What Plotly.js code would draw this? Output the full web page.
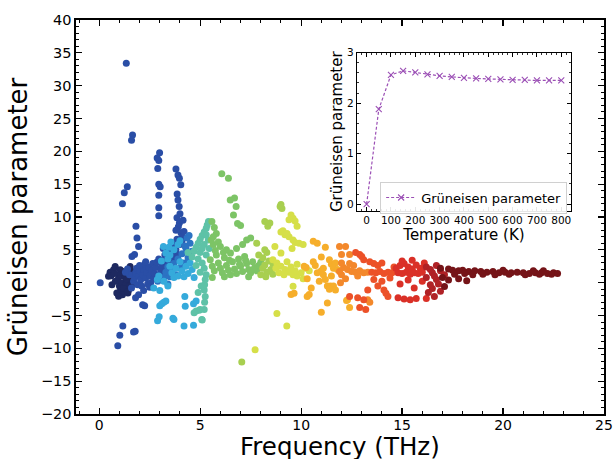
<!DOCTYPE html>
<html>
<head>
<meta charset="utf-8">
<script src="https://cdn.plot.ly/plotly-3.0.1.min.js"></script>
<style>html,body{margin:0;padding:0;background:#fff}#chart{width:615px;height:459px}</style>
</head>
<body>
<div id="chart"></div>
<script>
// ---- main scatter data: frequency (THz) vs Grüneisen parameter, grouped by branch colour ----
const navyX = [0.54,0.46,0.59,0.79,0.71,0.63,0.92,0.87,1.04,1.12,1.25,1.37,1.45,1.32,1.53,1.62,1.12,1.2,1.04,0.96,1.42,1.15,0.96,1.0,1.1,1.3,1.5,1.55,1.2,0.8,0.75,1.35,1.4,1.6,1.62,1.53];
const navyY = [1.57,0.96,1.07,2.48,1.98,-0.3,0.46,-1.57,-1.32,-1.07,-0.8,-0.66,-1.17,0.2,-0.05,0.46,1.72,0.96,1.98,1.22,-1.57,-1.83,-2.08,-0.5,0.0,-0.3,-0.6,0.9,-0.9,0.2,1.4,0.6,-1.4,-0.4,1.72,2.48];

const blueX = [1.34,1.65,1.6,1.39,1.24,1.15,1.82,1.87,1.95,2.15,2.25,1.17,1.02,0.92,1.7,1.78,2.99,2.87,2.95,2.9,2.95,3.02,2.95,2.95,2.95,3.17,3.8,3.9,3.97,4.04,3.86,3.9,3.96,3.85,3.97,0.05,1.75,1.62,3.92,4.05,4.1,3.8,4.15,4.0,
  1.6,1.7,1.75,1.8,1.85,1.9,1.95,2.0,2.05,2.1,2.15,2.2,2.25,2.3,2.35,2.4,2.45,2.5,2.55,2.6,2.65,2.7,2.75,2.8,2.85,2.9,2.95,3.0,3.05,3.1,3.15,3.2,3.25,3.3,3.35,3.4,3.45,3.5,3.55,3.6,3.65,3.7,3.75,3.8,3.85,3.9,1.95,1.8,2.2,2.5,4.0,4.1,4.2,3.6,2.0,2.3,1.5,1.4,1.3];
const blueY = [33.4,22.5,21.7,14.6,13.7,12.0,8.6,6.8,5.5,-3.35,-3.5,-6.6,-8.0,-9.6,-7.5,-7.4,19.8,19.0,18.6,17.4,15.0,14.6,13.3,11.4,10.2,5.2,17.3,16.4,15.9,14.9,13.5,12.6,11.6,9.9,9.1,0.0,4.3,4.0,8.5,7.6,7.0,8.0,9.5,10.5,
  -0.8,0.2,0.8,1.5,2.2,-0.3,1.0,1.8,0.4,-0.5,1.2,2.0,2.8,0.7,1.6,-0.2,2.4,1.0,0.0,1.9,2.9,0.6,1.4,2.3,3.1,1.0,3.6,0.5,1.8,2.6,3.4,1.2,4.2,2.2,3.0,4.8,1.6,3.8,2.6,5.2,4.3,6.0,3.4,5.0,6.6,4.2,-1.83,-2.3,-1.2,-0.7,5.8,6.4,7.8,3.0,2.6,3.2,1.2,2.1,1.6];

const midblueX = [3.2,3.3,3.4,3.5,3.6,3.7,3.8,3.9,4.0,4.1,4.2,4.3,4.4,4.5,4.35,4.25,4.45,4.6,3.4,2.9];
const midblueY = [0.8,1.6,2.4,0.9,1.9,2.9,1.2,3.6,2.2,4.4,3.0,5.2,3.8,6.0,6.8,5.6,7.2,4.8,-0.2,0.2];

const cyanX = [2.88,3.08,2.95,3.18,3.3,3.4,3.5,3.6,3.7,3.8,3.9,4.0,4.1,4.2,4.3,4.4,4.5,4.6,4.7,3.5,3.7,3.9,4.0,3.55,3.45,2.89,2.97,3.0,3.1,3.2,3.3,3.65,3.7,4.2,4.67,4.26,4.24,4.67,4.8,3.2,3.4,3.0,2.7];
const cyanY = [0.5,3.3,1.0,5.5,4.5,3.6,2.5,1.5,0.8,2.2,1.0,3.2,1.8,0.9,2.5,1.4,3.0,2.0,0.8,4.2,5.0,5.8,6.4,6.2,5.4,-5.8,-5.2,-3.5,-3.2,-3.0,-2.8,-5.4,-5.6,-6.6,-6.5,-3.6,-2.1,-3.2,-2.8,0.2,-0.5,-1.2,-0.8];

const tealX = [5.41,5.35,5.3,5.2,5.1,5.0,4.9,4.8,4.7,5.2,5.0,4.9,5.1,5.3,5.2,4.8,5.0,5.3,4.6,4.4,5.4,5.3,5.45,5.1,
  5.08,5.2,5.22,5.25,5.2,5.22,5.25,4.7,4.8,4.95,5.0,5.1,4.9,5.05];
const tealY = [9.3,8.8,8.3,7.7,7.2,6.6,6.0,5.4,4.8,5.8,4.6,3.6,3.0,4.2,2.2,2.6,1.6,1.2,3.9,4.6,6.5,7.3,5.2,5.2,
  -5.6,-4.1,-3.0,-2.1,-1.1,-0.3,0.5,-4.6,-4.3,-4.2,-4.1,-5.7,-1.5,-0.5];

const greenX = [5.58,5.7,5.8,5.9,6.07,6.4,6.49,6.7,6.78,6.65,6.85,7.0,7.3,7.5,5.5,5.6,5.7,5.8,5.9,6.0,6.1,6.2,6.3,6.4,6.5,6.6,6.7,6.8,6.9,7.0,7.1,7.2,7.3,7.4,7.5,7.6,7.7,7.8,7.9,8.0,6.0,6.3,6.8,7.1,5.6,6.2,7.4,6.5,5.65,5.75,6.15,6.45,6.95,7.25,7.65,5.55,5.65];
const greenY = [9.3,8.4,7.5,6.2,16.6,15.9,12.6,12.9,11.6,10.3,9.0,8.7,6.5,6.8,3.5,2.5,1.8,4.2,3.0,2.2,1.5,3.8,2.6,1.9,4.5,3.2,2.1,1.4,3.6,2.5,1.7,4.0,2.9,2.0,1.5,3.2,2.3,1.8,2.6,3.1,5.5,5.0,5.2,5.8,0.8,0.9,0.9,1.2,5.8,4.9,4.6,3.4,2.8,3.4,2.0,6.5,7.0];

const ygreenX = [8.2,8.35,8.45,8.1,8.2,8.3,8.4,8.5,8.6,8.2,8.3,7.8,8.0,7.06,8.6,7.9,8.1,8.25,9.0,9.05,8.96];
const ygreenY = [9.3,8.6,9.1,2.2,2.7,1.6,3.3,2.0,2.9,5.0,4.6,6.0,1.2,-12.1,1.3,4.2,3.8,0.9,11.9,11.3,11.6];

const yellowX = [9.5,9.6,9.7,9.4,9.8,9.0,9.2,9.4,9.6,9.7,9.9,10.1,9.1,9.3,8.6,8.8,9.0,9.2,9.4,9.6,9.8,10.0,10.2,10.4,9.3,9.8,8.8,9.29,8.9,10.1,9.0,8.7,9.5,9.7,8.75,9.15,7.72,9.6,9.55];
const yellowY = [10.3,9.8,9.4,9.6,8.6,7.7,7.3,7.0,6.5,6.1,6.0,5.8,7.9,7.5,3.5,3.0,2.5,2.0,1.6,1.2,1.0,1.5,2.2,1.8,3.2,2.8,-4.7,-6.6,1.5,0.6,4.5,5.5,2.4,1.8,2.2,1.2,-10.2,-0.56,5.2];

const goldX = [10.6,10.8,10.3,10.5,10.4,10.3,10.15,10.25,11.1,11.3,11.45,11.6,11.3,11.0,11.2,11.4,11.5,11.6,11.7,11.8,11.1,11.2,11.0,10.8,10.7,10.9,11.5,11.7,11.4,10.6,11.0,12.4,12.3,12.25,9.5,9.65];
const goldY = [6.3,6.0,0.6,-0.8,-1.8,-2.1,2.5,2.3,2.2,-0.5,-0.5,-0.5,-3.1,-4.5,5.4,3.5,2.8,2.2,3.0,2.0,1.2,0.5,1.8,1.5,2.6,0.2,1.0,-1.1,-1.0,3.2,3.9,-3.8,-2.6,-2.7,-1.8,-1.6];

const orangeX = [11.9,12.2,12.0,12.4,12.1,12.3,12.5,12.7,12.9,13.1,13.3,11.9,12.0,12.2,12.6,12.8,13.3,13.4,12.0,12.4,11.95];
const orangeY = [5.5,5.5,4.3,4.3,2.3,2.0,1.7,1.6,1.8,1.5,1.6,1.7,1.2,0.6,2.6,1.0,-2.6,-3.0,3.0,2.9,0.0];

const redorangeX = [12.9,13.0,13.1,13.4,13.6,13.8,13.5,13.7,13.9,14.1,14.3,14.5,13.3,12.9,13.2,12.4,12.8,13.1,14.1,14.2,14.3,13.6,14.0,14.4,13.8,14.6,14.0,12.7];
const redorangeY = [4.3,4.0,3.5,3.2,2.9,2.6,1.6,1.5,1.7,1.4,1.6,1.5,-1.1,-3.8,-4.1,-2.1,-2.3,-2.6,-1.1,-1.6,-2.1,0.5,0.2,0.7,-0.5,2.4,3.0,4.6];

const redX = [14.7,14.9,15.1,15.3,15.5,15.7,15.9,14.8,15.0,15.2,15.4,15.6,15.8,16.0,14.8,15.1,15.4,15.7,16.2,14.9,15.3,15.6,16.0,15.0,15.5,16.1];
const redY = [2.2,2.6,2.9,2.4,2.1,2.7,2.2,1.5,1.4,1.6,1.3,1.5,1.4,1.6,-2.3,-2.5,-2.6,-2.4,-2.4,-0.2,0.4,-0.8,0.2,3.3,3.4,3.0];

const darkredX = [16.2,16.4,16.5,16.6,16.7,16.8,16.5,16.3,16.6,16.9,16.2,16.4,16.9,17.1,16.7];
const darkredY = [2.4,2.0,1.5,1.0,0.5,-0.2,-0.9,-1.5,-2.1,-1.3,0.8,-0.3,1.8,1.2,2.6];

const maroonX = [16.9,17.3,17.5,17.8,18.0,18.3,18.6,18.9,19.2,19.5,19.8,20.1,20.4,20.7,21.0,21.3,21.6,21.9,22.2,22.5,22.7,17.0,17.3,17.8,18.2,17.1,17.6,18.1,19.0,19.6,20.3,21.1,21.8,22.4,18.5,20.0,21.5,22.0];
const maroonY = [2.2,2.1,1.9,1.8,1.9,1.7,1.8,1.7,1.6,1.7,1.5,1.6,1.5,1.6,1.5,1.4,1.5,1.5,1.4,1.5,1.4,0.8,0.4,0.6,0.3,-0.6,1.3,1.4,1.3,1.2,1.3,1.2,1.3,1.3,1.2,1.9,1.8,1.8];

// ---- inset data: temperature (K) vs Grüneisen parameter ----
const tempK = [0,50,100,150,200,250,300,350,400,450,500,550,600,650,700,750,800];
const gammaT = [0.0,1.88,2.56,2.64,2.61,2.57,2.54,2.52,2.50,2.49,2.48,2.47,2.46,2.46,2.45,2.45,2.45];

const xTickVals = [0,5,10,15,20,25];
const yTickVals = [-20,-15,-10,-5,0,5,10,15,20,25,30,35,40];

const groups = [
  [navyX, navyY, '#1e2960'],
  [blueX, blueY, '#2a4ea6'],
  [midblueX, midblueY, '#2c73c3'],
  [cyanX, cyanY, '#35aadb'],
  [tealX, tealY, '#5ec2a7'],
  [greenX, greenY, '#7dc466'],
  [ygreenX, ygreenY, '#a8cf50'],
  [yellowX, yellowY, '#d6df48'],
  [goldX, goldY, '#f6ae2b'],
  [orangeX, orangeY, '#f3882b'],
  [redorangeX, redorangeY, '#ec5128'],
  [redX, redY, '#da3027'],
  [darkredX, darkredY, '#b02226'],
  [maroonX, maroonY, '#751418']
];

const traces = groups.map(g => ({
  x: g[0], y: g[1], type: 'scatter', mode: 'markers',
  marker: {color: g[2], size: 7, line: {width: 0}},
  showlegend: false, xaxis: 'x', yaxis: 'y', hoverinfo: 'skip'
}));

traces.push({
  x: tempK, y: gammaT, type: 'scatter', mode: 'lines+markers',
  name: 'Grüneisen parameter', xaxis: 'x2', yaxis: 'y2',
  line: {color: '#9b4fb5', width: 1.2, dash: '3px,2px'},
  marker: {symbol: 'x-thin-open', size: 6, color: '#9b4fb5', line: {color: '#9b4fb5', width: 1.1}}
});

const font = 'DejaVu Sans, sans-serif';
const layout = {
  width: 615, height: 459,
  margin: {l: 76, r: 11, t: 20, b: 45},
  paper_bgcolor: '#fff', plot_bgcolor: '#fff',
  font: {family: font, color: '#000'},
  showlegend: true,
  legend: {x: 0.576, y: 0.59, xanchor: 'left', yanchor: 'top',
    bgcolor: 'rgba(255,255,255,0.9)', bordercolor: '#d0d0d0', borderwidth: 1,
    tracegroupgap: 0, itemwidth: 30,
    font: {size: 13, family: font}},
  annotations: [{
    text: 'Frequency (THz)', xref: 'paper', yref: 'paper', x: 0.5, y: -0.043,
    xanchor: 'center', yanchor: 'top', showarrow: false, borderpad: 0,
    font: {size: 24.5, family: font, color: '#000'}
  }],
  xaxis: {
    domain: [0, 1], range: [-1.15, 25], tickvals: xTickVals,
    ticks: 'inside', ticklen: 6, tickwidth: 1.2, tickcolor: '#000',
    showline: true, linewidth: 1.6, linecolor: '#000', mirror: 'allticks',
    showgrid: false, zeroline: false, ticklabelstandoff: -2,
    minor: {ticks: 'inside', dtick: 1, ticklen: 3, tickwidth: 1, tickcolor: '#000'},
    tickfont: {size: 14}, automargin: false
  },
  yaxis: {
    domain: [0, 1], range: [-20, 40], tickvals: yTickVals,
    ticks: 'inside', ticklen: 6, tickwidth: 1.2, tickcolor: '#000',
    showline: true, linewidth: 1.6, linecolor: '#000', mirror: 'allticks',
    showgrid: false, zeroline: false,
    minor: {ticks: 'inside', dtick: 1, ticklen: 3, tickwidth: 1, tickcolor: '#000'},
    tickfont: {size: 14.5}, automargin: false,
    title: {text: 'Grüneisen parameter', font: {size: 26}, standoff: 6}
  },
  xaxis2: {
    domain: [0.532, 0.9375], anchor: 'y2', range: [-40, 840], dtick: 100, tick0: 0,
    ticks: 'inside', ticklen: 4, tickwidth: 1, tickcolor: '#000',
    showline: true, linewidth: 1.2, linecolor: '#000', mirror: 'allticks',
    showgrid: false, zeroline: false,
    minor: {ticks: 'inside', dtick: 20, ticklen: 2, tickwidth: 0.8, tickcolor: '#000'},
    tickfont: {size: 10.5}, automargin: false,
    title: {text: 'Temperature (K)', font: {size: 15}, standoff: 0}
  },
  yaxis2: {
    domain: [0.516, 0.917], anchor: 'x2', range: [-0.13, 3], dtick: 1, tick0: 0,
    ticks: 'inside', ticklen: 4, tickwidth: 1, tickcolor: '#000',
    showline: true, linewidth: 1.2, linecolor: '#000', mirror: 'allticks',
    showgrid: false, zeroline: false,
    minor: {ticks: 'inside', dtick: 0.2, ticklen: 2, tickwidth: 0.8, tickcolor: '#000'},
    tickfont: {size: 10.5}, automargin: false,
    title: {text: 'Grüneisen parameter', font: {size: 15}, standoff: 0}
  }
};

Plotly.newPlot('chart', traces, layout, {staticPlot: true, displayModeBar: false});
</script>
</body>
</html>
